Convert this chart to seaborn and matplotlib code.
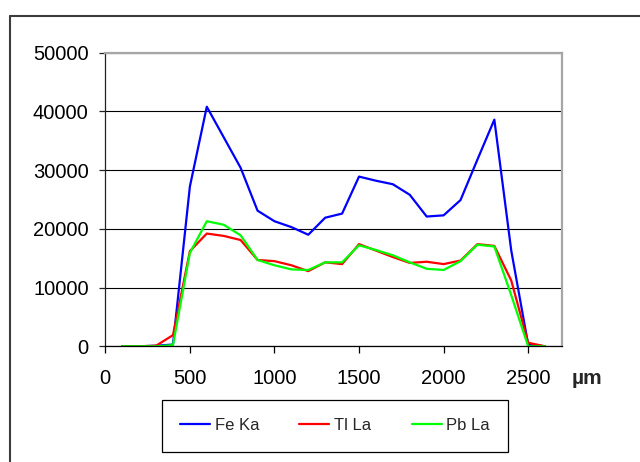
import matplotlib
matplotlib.use("Agg")
import matplotlib.pyplot as plt
from matplotlib.lines import Line2D
import seaborn as sns
import pandas as pd

# ---- data ----
positions_um = [100, 200, 300, 400, 500, 600, 700, 800, 900, 1000, 1100, 1200, 1300,
                1400, 1500, 1600, 1700, 1800, 1900, 2000, 2100, 2200, 2300, 2400, 2500, 2600]
fe_ka = [0, 0, 100, 300, 27200, 40800, 35600, 30400, 23100, 21300, 20300, 19000, 21900,
         22600, 28900, 28200, 27600, 25800, 22100, 22300, 24900, 31800, 38600, 16300, 300, 0]
tl_la = [0, 0, 100, 1900, 16200, 19200, 18800, 18100, 14700, 14500, 13800, 12800, 14300,
         14000, 17400, 16300, 15200, 14200, 14400, 14000, 14600, 17400, 17100, 11200, 600, 0]
pb_la = [0, 0, 0, 200, 15900, 21300, 20700, 18900, 14700, 13800, 13100, 13000, 14300,
         14300, 17200, 16400, 15500, 14300, 13200, 13000, 14500, 17300, 17000, 8700, 0, 0]
series_names = ["Fe Ka", "Tl La", "Pb La"]
series_colors = ["#0000FF", "#FF0000", "#00FF00"]
x_ticks = [0, 500, 1000, 1500, 2000, 2500]
y_ticks = [0, 10000, 20000, 30000, 40000, 50000]
x_unit = "µm"

df = pd.concat([
    pd.DataFrame({"x": positions_um, "y": vals, "series": name})
    for name, vals in zip(series_names, [fe_ka, tl_la, pb_la])
], ignore_index=True)

sns.set_theme(style="white")
plt.rcParams["font.family"] = ["Liberation Sans", "DejaVu Sans"]

W, H = 640, 462
fig = plt.figure(figsize=(W / 100, H / 100), dpi=100)
fig.patch.set_facecolor("white")

left, right, top, bottom = 105.3, 562, 52.7, 346.3
ax = fig.add_axes([left / W, 1 - bottom / H, (right - left) / W, (bottom - top) / H])

sns.lineplot(data=df, x="x", y="y", hue="series", hue_order=series_names,
             palette=dict(zip(series_names, series_colors)), linewidth=1.6,
             ax=ax, legend=False, estimator=None, sort=False)

ax.set_xlim(0, 2700)
ax.set_ylim(0, 50000)
ax.set_xticks(x_ticks)
ax.set_yticks(y_ticks)
ax.set_xticklabels([str(t) for t in x_ticks])
ax.set_yticklabels([str(t) for t in y_ticks])
ax.set_xlabel("")
ax.set_ylabel("")

ax.set_axisbelow(True)
ax.yaxis.grid(True, color="black", linewidth=0.8)
ax.xaxis.grid(False)

for s in ["top", "right"]:
    ax.spines[s].set_color("#a6a6a6")
    ax.spines[s].set_linewidth(1.6)
ax.spines["left"].set_color("#222222")
ax.spines["left"].set_linewidth(0.9)
ax.spines["bottom"].set_color("black")
ax.spines["bottom"].set_linewidth(0.9)

ax.tick_params(axis="y", direction="out", length=4.5, width=0.9, color="#222222",
               pad=7.5, labelsize=14.5, labelcolor="black", left=True)
ax.tick_params(axis="x", direction="out", length=5, width=0.9, color="black",
               pad=11, labelsize=14.5, labelcolor="black", bottom=True)

fig.text(587 / W, 1 - 378 / H, x_unit, fontsize=15, fontweight="bold",
         ha="center", va="center")

handles = [Line2D([0], [0], color=c, lw=1.6) for c in series_colors]
leg = fig.legend(handles, series_names, loc="center",
                 bbox_to_anchor=(335 / W, 1 - 425.8 / H), ncol=3,
                 fontsize=12, frameon=True, fancybox=False, framealpha=1,
                 edgecolor="black", handlelength=1.8, handletextpad=0.3,
                 columnspacing=2.4, borderpad=1.1)
leg.get_frame().set_linewidth(0.9)

# outer chart border (partly cropped in the reference)
bx, by = 9.7 / W, 1 - 15.7 / H
fig.add_artist(Line2D([bx, bx], [0, by], transform=fig.transFigure, color="#3c3c3c", lw=1.5))
fig.add_artist(Line2D([bx, 1], [by, by], transform=fig.transFigure, color="#3c3c3c", lw=1.5))

fig.savefig("out.png", dpi=100)
